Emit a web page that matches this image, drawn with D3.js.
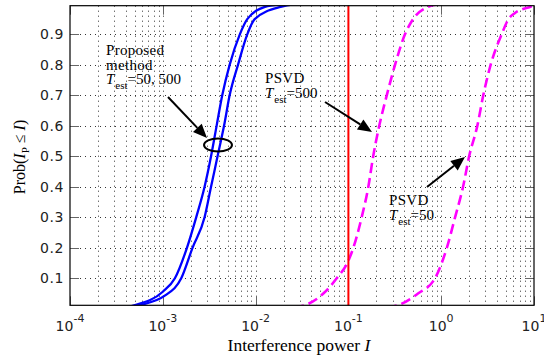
<!DOCTYPE html>
<html>
<head>
<meta charset="utf-8">
<script src="https://cdn.jsdelivr.net/npm/d3@7"></script>
<style>
  body { margin: 0; background: #fff; }
  svg { display: block; }
  .tick-label { font-family: "DejaVu Sans", sans-serif; font-size: 14px; fill: #222; }
  .serif { font-family: "Liberation Serif", "Times New Roman", serif; fill: #000; }
</style>
</head>
<body>
<figure id="chart" style="margin:0"></figure>
<script>
// values
const xTicks = [1e-4, 1e-3, 1e-2, 1e-1, 1e0, 1e1];
const xTickExp = ["-4", "-3", "-2", "-1", "0", "1"];
const yTicks = [0.1, 0.2, 0.3, 0.4, 0.5, 0.6, 0.7, 0.8, 0.9];
const threshold = 0.1;

// proposed method, two training lengths
const propA_I = [4.0e-4, 5.0e-4, 1.0e-3, 1.35e-3, 1.82e-3, 2.29e-3, 2.82e-3, 3.31e-3, 3.80e-3, 4.37e-3, 5.25e-3, 6.76e-3, 8.13e-3, 1.26e-2, 1.8e-2, 2.5e-2];
const propA_P = [0.005, 0.012, 0.056, 0.1, 0.2, 0.3, 0.4, 0.5, 0.6, 0.7, 0.8, 0.9, 0.95, 0.99, 0.998, 1.0];
const propB_I = [4.5e-4, 5.6e-4, 1.05e-3, 1.58e-3, 2.09e-3, 2.82e-3, 3.31e-3, 3.89e-3, 4.57e-3, 5.25e-3, 6.46e-3, 8.13e-3, 9.77e-3, 1.86e-2, 2.6e-2, 3.5e-2];
const propB_P = [0.005, 0.012, 0.043, 0.1, 0.2, 0.3, 0.4, 0.5, 0.6, 0.7, 0.8, 0.9, 0.95, 0.99, 0.998, 1.0];

// PSVD, Test = 500 and Test = 50
const psvd500_I = [2.6e-2, 3.4e-2, 5.37e-2, 7.48e-2, 9.9e-2, 0.113, 0.139, 0.164, 0.185, 0.215, 0.259, 0.318, 0.407, 0.497, 0.721, 0.9, 1.2];
const psvd500_P = [0.005, 0.012, 0.05, 0.1, 0.155, 0.2, 0.3, 0.4, 0.5, 0.6, 0.7, 0.8, 0.9, 0.95, 0.99, 0.998, 1.0];
const psvd50_I = [0.26, 0.342, 0.562, 0.857, 1.15, 1.41, 1.72, 2.0, 2.45, 2.84, 3.41, 4.48, 5.31, 6.24, 9.06, 12];
const psvd50_P = [0.005, 0.012, 0.05, 0.1, 0.2, 0.3, 0.4, 0.5, 0.6, 0.7, 0.8, 0.9, 0.95, 0.97, 0.99, 1.0];

const width = 544, height = 358;
const pLeft = 70, pRight = 534, pTop = 5.7, pBottom = 305.3;

const svg = d3.select("figure#chart")
  .append("svg")
  .attr("width", width)
  .attr("height", height);

const x = d3.scaleLog().domain([1e-4, 10]).range([pLeft, pRight]);
const y = d3.scaleLinear().domain([0.0115, 0.994]).range([pBottom, pTop]);

svg.append("clipPath").attr("id", "plot")
  .append("rect")
  .attr("x", pLeft).attr("y", pTop)
  .attr("width", pRight - pLeft).attr("height", pBottom - pTop);

// dotted grid, decades plus 2..9
const gridX = [];
for (let e = -4; e < 1; e++) {
  for (let m = 1; m < 10; m++) gridX.push(m * Math.pow(10, e));
}
const grid = svg.append("g")
  .attr("stroke", "#333")
  .attr("stroke-width", 1)
  .attr("stroke-dasharray", "1,4");
grid.selectAll("line.gx")
  .data(gridX.filter(d => d > 1e-4))
  .enter().append("line")
  .attr("x1", d => Math.round(x(d)) + 0.5).attr("x2", d => Math.round(x(d)) + 0.5)
  .attr("y1", pTop).attr("y2", pBottom);
grid.selectAll("line.gy")
  .data(yTicks)
  .enter().append("line")
  .attr("x1", pLeft).attr("x2", pRight)
  .attr("y1", d => Math.round(y(d)) + 0.5).attr("y2", d => Math.round(y(d)) + 0.5);

// inner ticks on all four sides
const ticks = svg.append("g").attr("stroke", "#666").attr("stroke-width", 1);
xTicks.forEach(t => {
  const px = Math.round(x(t)) + 0.5;
  ticks.append("line").attr("x1", px).attr("x2", px).attr("y1", pBottom).attr("y2", pBottom - 9);
  ticks.append("line").attr("x1", px).attr("x2", px).attr("y1", pTop).attr("y2", pTop + 9);
});
yTicks.forEach(t => {
  const py = Math.round(y(t)) + 0.5;
  ticks.append("line").attr("x1", pLeft).attr("x2", pLeft + 9).attr("y1", py).attr("y2", py);
  ticks.append("line").attr("x1", pRight).attr("x2", pRight - 9).attr("y1", py).attr("y2", py);
});

// curves
const line = d3.line()
  .x(d => x(d[0]))
  .y(d => y(d[1]))
  .curve(d3.curveMonotoneX);

const plot = svg.append("g").attr("clip-path", "url(#plot)");

[[propA_I, propA_P], [propB_I, propB_P]].forEach(s => {
  plot.append("path")
    .datum(d3.zip(s[0], s[1]))
    .attr("d", line)
    .attr("fill", "none")
    .attr("stroke", "#0000ff")
    .attr("stroke-width", 2.3);
});

[[psvd500_I, psvd500_P], [psvd50_I, psvd50_P]].forEach(s => {
  plot.append("path")
    .datum(d3.zip(s[0], s[1]))
    .attr("d", line)
    .attr("fill", "none")
    .attr("stroke", "#ff00ff")
    .attr("stroke-width", 2.6)
    .attr("stroke-dasharray", "10,5");
});

// threshold
plot.append("line")
  .attr("x1", x(threshold)).attr("x2", x(threshold))
  .attr("y1", pTop).attr("y2", pBottom)
  .attr("stroke", "#ff0000")
  .attr("stroke-width", 2);

// axes box
svg.append("rect")
  .attr("x", pLeft).attr("y", pTop)
  .attr("width", pRight - pLeft).attr("height", pBottom - pTop)
  .attr("fill", "none")
  .attr("stroke", "#000")
  .attr("stroke-width", 1.2);

// tick labels
svg.selectAll("text.ylab")
  .data(yTicks)
  .enter().append("text")
  .attr("class", "tick-label")
  .attr("x", 64)
  .attr("y", d => y(d) + 5)
  .attr("text-anchor", "end")
  .attr("letter-spacing", "0.6px")
  .text(d => d.toFixed(1));

xTicks.forEach((t, i) => {
  const tx = svg.append("text")
    .attr("class", "tick-label")
    .attr("x", x(t))
    .attr("y", 331)
    .attr("text-anchor", "middle");
  tx.append("tspan").text("10");
  tx.append("tspan").attr("dy", -9).style("font-size", "11px").text(xTickExp[i]);
});

// axis titles
const xt = svg.append("text").attr("class", "serif")
  .attr("x", 299).attr("y", 351)
  .attr("text-anchor", "middle")
  .style("font-size", "17.5px");
xt.append("tspan").text("Interference power ");
xt.append("tspan").style("font-style", "italic").text("I");

const yt = svg.append("text").attr("class", "serif")
  .attr("transform", "translate(25,157) rotate(-90)")
  .attr("text-anchor", "middle")
  .style("font-size", "16px");
yt.append("tspan").text("Prob(");
yt.append("tspan").style("font-style", "italic").text("I");
yt.append("tspan").attr("dy", 4).style("font-size", "11px").text("P");
yt.append("tspan").attr("dy", -4).text(" \u2264 ");
yt.append("tspan").style("font-style", "italic").text("I");
yt.append("tspan").text(")");

// annotations
function tLabel(px, py, val) {
  const t = svg.append("text").attr("class", "serif")
    .attr("x", px).attr("y", py)
    .style("font-size", "15px");
  t.append("tspan").style("font-style", "italic").text("T");
  t.append("tspan").attr("dy", 5).attr("dx", 1).style("font-size", "11px").text("est");
  t.append("tspan").attr("dy", -5).text("=" + val);
}
function lineText(px, py, s) {
  svg.append("text").attr("class", "serif")
    .attr("x", px).attr("y", py)
    .style("font-size", "15px")
    .attr("letter-spacing", "0.3px")
    .text(s);
}
lineText(106, 55, "Proposed");
lineText(106, 69.5, "method");
tLabel(106, 84, "50, 500");
lineText(265, 83, "PSVD");
tLabel(265, 97.5, "500");
lineText(389, 205, "PSVD");
tLabel(389, 219.5, "50");

function arrow(x1, y1, x2, y2) {
  const a = Math.atan2(y2 - y1, x2 - x1);
  const L = 14, W = 6;
  const bx = x2 - L * Math.cos(a), by = y2 - L * Math.sin(a);
  svg.append("line")
    .attr("x1", x1).attr("y1", y1).attr("x2", bx).attr("y2", by)
    .attr("stroke", "#000").attr("stroke-width", 2);
  const px = -Math.sin(a) * W, py = Math.cos(a) * W;
  svg.append("path")
    .attr("d", `M${x2},${y2}L${bx + px},${by + py}L${bx - px},${by - py}Z`)
    .attr("fill", "#000");
}
arrow(168, 97, 207, 138);
arrow(325, 102, 372, 132);
arrow(427, 187, 465, 157);

svg.append("ellipse")
  .attr("cx", 218).attr("cy", 145)
  .attr("rx", 14).attr("ry", 6.5)
  .attr("fill", "none")
  .attr("stroke", "#000")
  .attr("stroke-width", 2);
</script>
</body>
</html>
